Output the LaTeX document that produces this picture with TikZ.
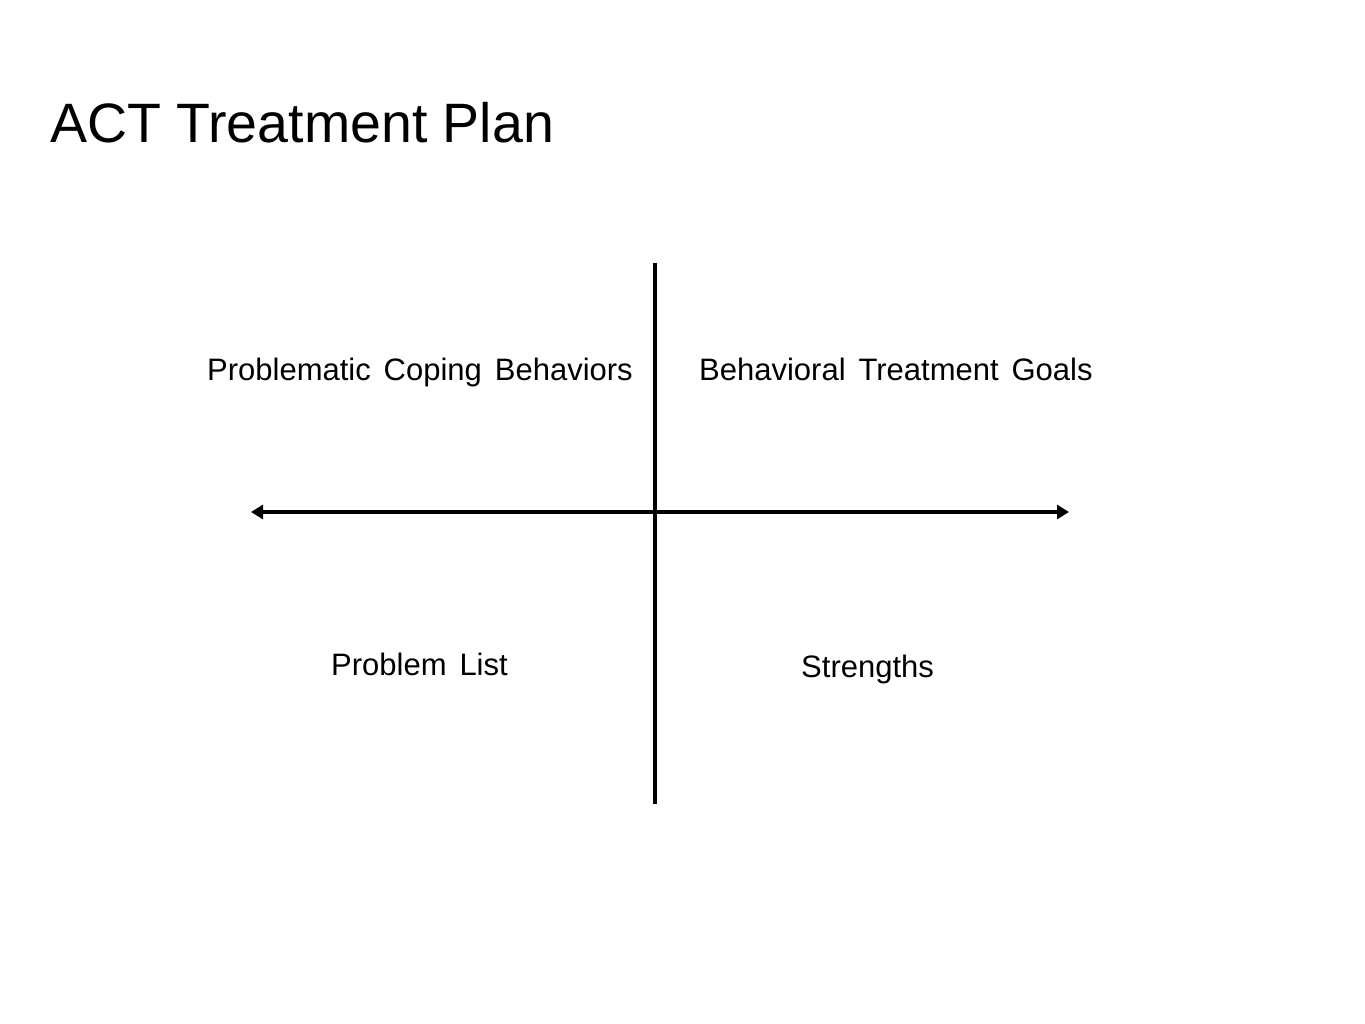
\documentclass[tikz,border=0pt]{standalone}
\usepackage{fontspec}
\setmainfont{Liberation Sans}
\newfontfamily\labelfont{Liberation Sans}[WordSpace=1.5]
\usetikzlibrary{arrows.meta}
\tikzset{
  title/.style={anchor=base west, inner sep=0pt, font=\fontsize{55.5pt}{60pt}\selectfont},
  quadlabel/.style={anchor=base west, inner sep=0pt, font=\labelfont\fontsize{31pt}{36pt}\selectfont},
  axis/.style={line width=4pt},
  arrowaxis/.style={line width=4pt, {Triangle[length=12pt,width=14pt]}-{Triangle[length=12pt,width=14pt]}}
}
\begin{document}
\begin{tikzpicture}[x=1pt,y=-1pt]
\useasboundingbox[fill=white] (0,0) rectangle (1365,1024);
\node[title] (ttl) at (50,143) {ACT Treatment Plan};
\coordinate (vtop) at (655,263);
\coordinate (vbot) at (655,804);
\coordinate (hleft) at (251,512);
\coordinate (hright) at (1069,512);
\draw[axis] (vtop) -- (vbot);
\draw[arrowaxis] (hleft) -- (hright);
\node[quadlabel] (pcb) at (207,380) {Problematic Coping Behaviors};
\node[quadlabel] (btg) at (699,380) {Behavioral Treatment Goals};
\node[quadlabel] (pl) at (331,675) {Problem List};
\node[quadlabel] (str) at (801,677) {Strengths};
\end{tikzpicture}
\end{document}
